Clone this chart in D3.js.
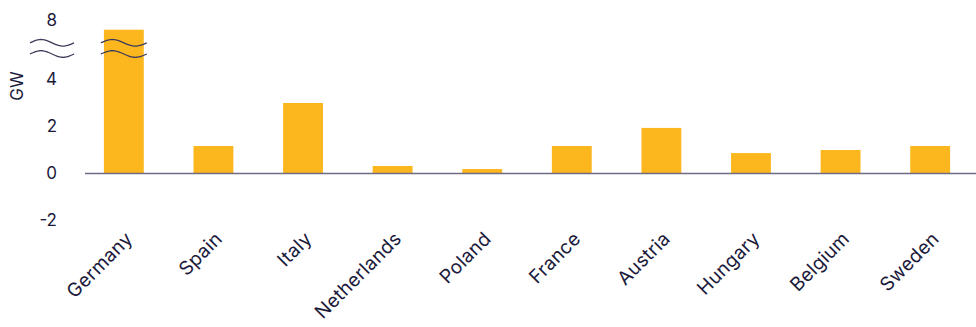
<!DOCTYPE html>
<html>
<head>
<meta charset="utf-8">
<script src="https://cdn.jsdelivr.net/npm/d3@7/dist/d3.min.js"></script>
<style>
  html, body { margin: 0; padding: 0; background: #fff; }
  svg { display: block; font-family: Inter, "Noto Sans", sans-serif; }
</style>
</head>
<body>
<svg id="chart" width="976" height="327"></svg>
<script>
const categories = ["Germany", "Spain", "Italy", "Netherlands", "Poland", "France", "Austria", "Hungary", "Belgium", "Sweden"];
const values = [7.6, 1.17, 3.0, 0.32, 0.19, 1.17, 1.94, 0.87, 1.0, 1.17];
const tickValues = [-2, 0, 2, 4, 8];
const tickLabels = ["-2", "0", "2", "4", "8"];
const yLabel = "GW";

const svg = d3.select("#chart");
const barColor = "#FDB71E";
const axisColor = "#6E6C85";
const textColor = "#1B1A3B";

// broken (piecewise) y-scale: lower segment -2..5.1, upper segment 7..8
const y = d3.scaleLinear()
  .domain([-2, 5.1, 7, 8])
  .range([220.5, 53.65, 43.5, 20.5]);

const x = d3.scaleBand()
  .domain(categories)
  .range([79, 975])
  .paddingInner(0.555)
  .paddingOuter(0.278);

// bars
svg.append("g").selectAll("rect")
  .data(categories)
  .join("rect")
  .attr("x", d => x(d))
  .attr("width", x.bandwidth())
  .attr("y", (d, i) => y(Math.max(0, values[i])))
  .attr("height", (d, i) => Math.abs(y(values[i]) - y(0)))
  .attr("fill", barColor);

// zero axis line
svg.append("line")
  .attr("x1", 85).attr("x2", 976)
  .attr("y1", y(0)).attr("y2", y(0))
  .attr("stroke", axisColor).attr("stroke-width", 1.6);

// y tick labels
const yAxis = d3.axisLeft(y).tickValues(tickValues)
  .tickFormat((d, i) => tickLabels[i]).tickSize(0).tickPadding(0);
const gy = svg.append("g").attr("transform", "translate(57,0)").call(yAxis);
gy.select(".domain").remove();
gy.selectAll("text")
  .attr("fill", textColor)
  .style("font-size", "17px")
  .style("font-family", "Inter, 'Noto Sans', sans-serif");

// y axis title
svg.append("text")
  .attr("transform", "translate(23,86) rotate(-90)")
  .attr("text-anchor", "middle")
  .attr("fill", textColor)
  .style("font-size", "17px")
  .text(yLabel);

// break symbols
const breakYs = [42.8, 54];
function wave(x0, w, yc) {
  const pts = d3.range(0, 41).map(k => {
    const t = k / 40;
    return [x0 + t * w, yc - 3.3 * Math.sin(t * 2 * Math.PI)];
  });
  return d3.line().curve(d3.curveBasis)(pts);
}
const breakXs = [[30, 44], [x(categories[0]) - 3, x.bandwidth() + 6]];
breakXs.forEach(([bx, bw]) => {
  breakYs.forEach(by => {
    svg.append("path")
      .attr("d", wave(bx, bw, by))
      .attr("fill", "none")
      .attr("stroke", "#3E3C5A")
      .attr("stroke-width", 1.3);
  });
});

// x category labels
const gx = svg.append("g");
categories.forEach(c => {
  const cx = x(c) + x.bandwidth() / 2 + 10;
  gx.append("text")
    .attr("transform", `translate(${cx},240) rotate(-45)`)
    .attr("text-anchor", "end")
    .attr("fill", textColor)
    .style("font-size", "19px")
    .style("letter-spacing", "0.3px")
    .text(c);
});
</script>
</body>
</html>
